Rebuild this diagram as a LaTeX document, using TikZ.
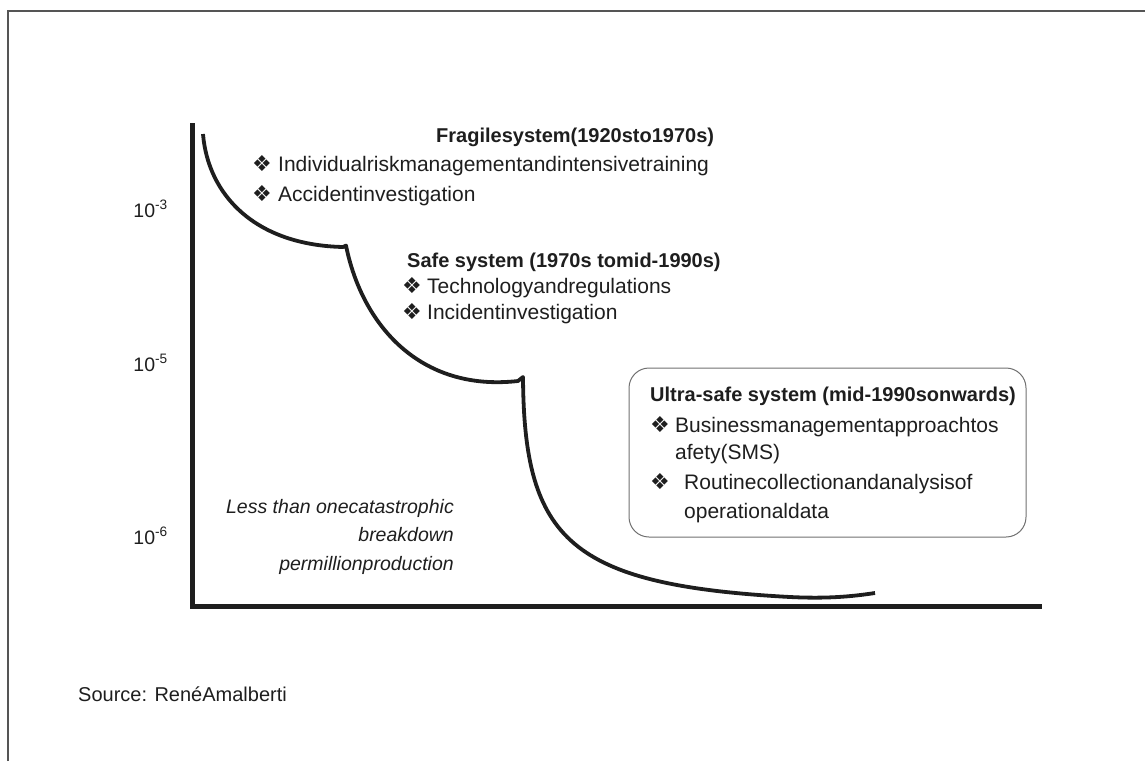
\documentclass[tikz,border=0pt]{standalone}
\usepackage{fontspec}
\usetikzlibrary{calc}
\setmainfont{Liberation Sans}
\newfontfamily\symfont{DejaVu Sans}
\definecolor{ink}{HTML}{1E1E1E}
\definecolor{framegray}{HTML}{555555}
\definecolor{boxgray}{HTML}{707070}
\begin{document}
\begin{tikzpicture}[x=1pt,y=-1pt,
  txt/.style={anchor=base west, inner sep=0pt, text=ink, font=\fontsize{21}{25}\selectfont},
  ttl/.style={anchor=base west, inner sep=0pt, text=ink, font=\bfseries\fontsize{20}{25}\selectfont},
  bul/.style={anchor=base west, inner sep=0pt, text=ink, font=\symfont\fontsize{22}{26}\selectfont},
  note/.style={anchor=base east, inner sep=0pt, text=ink, font=\itshape\fontsize{19.5}{24}\selectfont},
  ylab/.style={anchor=base east, inner sep=0pt, text=ink, font=\fontsize{19.5}{22}\selectfont},
  axisline/.style={draw=ink, line width=5pt},
  curveline/.style={draw=ink, line width=3.8pt, line join=round},
  framel/.style={draw=framegray, line width=1.3pt},
  ubox/.style={draw=boxgray, line width=1pt, rounded corners=20pt, minimum width=397pt, minimum height=169pt, inner sep=0pt}
]
\useasboundingbox (0,0) rectangle (1145,761);
% page frame
\draw[framel] (8,761) -- (8,11) -- (1145,11);

% axes
\coordinate (ytop) at (192.5,123);
\coordinate (origin) at (192.5,606.5);
\coordinate (xend) at (1042,606.5);
\draw[axisline] (ytop) -- ($(origin)+(0,2.5)$);
\draw[axisline] ($(origin)+(-2.5,0)$) -- (xend);

% curve
\coordinate (c0) at (203,134);
\coordinate (c1) at (343,247);
\coordinate (c2) at (346,245.5);
\coordinate (c3) at (518,381);
\coordinate (c4) at (523,377);
\coordinate (c5) at (790,597);
\coordinate (c6) at (875,593);
\draw[curveline] (c0) .. controls (208,195) and (255,245) .. (c1) -- (c2)
  .. controls (362,325) and (420,392) .. (c3) -- (c4)
  .. controls (524,540) and (570,585) .. (c5)
  .. controls (830,599) and (855,596) .. (c6);

% y labels
\node[ylab] (l3) at (168,217) {10\textsuperscript{-3}};
\node[ylab] (l5) at (168,371) {10\textsuperscript{-5}};
\node[ylab] (l6) at (168,544) {10\textsuperscript{-6}};

% fragile system
\node[ttl] (fragt) at (436,142) {Fragilesystem(1920sto1970s)};
\node[bul] (fragb1) at (252,171) {❖};
\node[txt] (fragi1) at (278,171) {Individualriskmanagementandintensivetraining};
\node[bul] (fragb2) at (252,201) {❖};
\node[txt] (fragi2) at (278,201) {Accidentinvestigation};

% safe system
\node[ttl] (safet) at (407,267) {Safe system (1970s tomid-1990s)};
\node[bul] (safeb1) at (402,293) {❖};
\node[txt] (safei1) at (427,293) {Technologyandregulations};
\node[bul] (safeb2) at (402,319) {❖};
\node[txt] (safei2) at (427,319) {Incidentinvestigation};

% ultra-safe system
\node[ubox] (ultrabox) at (827.5,452.5) {};
\node[ttl] (ultrat) at (650,401) {Ultra-safe system (mid-1990sonwards)};
\node[bul] (ultrab1) at (650,432) {❖};
\node[txt] (ultrai1) at (675,432) {Businessmanagementapproachtos};
\node[txt] (ultrai1b) at (675,459) {afety(SMS)};
\node[bul] (ultrab2) at (650,489) {❖};
\node[txt] (ultrai2) at (684,489) {Routinecollectionandanalysisof};
\node[txt] (ultrai2b) at (684,518) {operationaldata};

% note
\node[note] (n1) at (454,513) {Less than onecatastrophic};
\node[note] (n2) at (454,541) {breakdown};
\node[note] (n3) at (454,570) {permillionproduction};

% source
\node[txt, font=\fontsize{20}{24}\selectfont] (src) at (78,701) {Source: RenéAmalberti};
\end{tikzpicture}
\end{document}
